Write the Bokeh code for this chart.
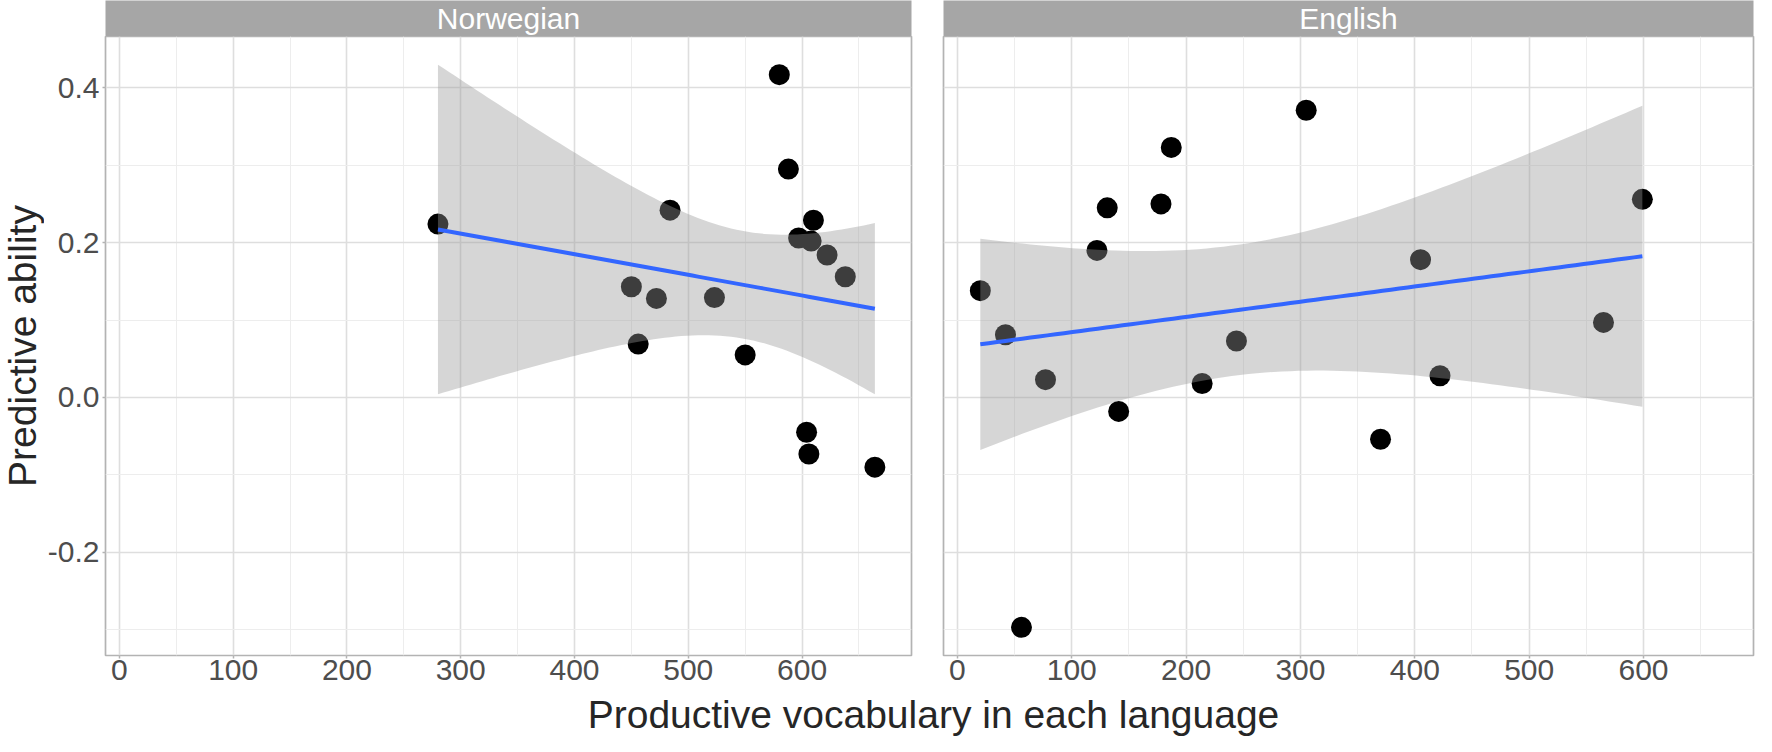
import math
import numpy as np
from bokeh.plotting import figure
from bokeh.layouts import row, column
from bokeh.models import Range1d, FixedTicker, PrintfTickFormatter, Grid
from bokeh.core.properties import value
from bokeh.embed import file_html
from bokeh.resources import INLINE

# ---------------- data ----------------
facets = ["Norwegian", "English"]
nor_vocab = [280, 450, 456, 472, 484, 523, 550, 580, 588, 597, 604, 606, 608, 610, 622, 638, 664]
nor_pred = [0.224, 0.143, 0.069, 0.128, 0.242, 0.129, 0.055, 0.417, 0.295, 0.206,
            -0.045, -0.073, 0.202, 0.229, 0.184, 0.156, -0.090]
eng_vocab = [20, 42, 56, 77, 122, 131, 141, 178, 187, 214, 244, 305, 370, 405, 422, 565, 599]
eng_pred = [0.138, 0.081, -0.297, 0.023, 0.190, 0.245, -0.018, 0.250, 0.323, 0.018,
            0.073, 0.371, -0.054, 0.178, 0.028, 0.097, 0.256]

x_ticks = [0, 100, 200, 300, 400, 500, 600]
x_minor = [50, 150, 250, 350, 450, 550, 650]
y_ticks = [-0.2, 0.0, 0.2, 0.4]
y_minor = [-0.3, -0.1, 0.1, 0.3]

x_title = "Productive vocabulary in each language"
y_title = "Predictive ability"

T975_DF15 = 2.1314  # t quantile for 95% CI, n-2 = 15 degrees of freedom

FONT = "Liberation Sans"
TICK_COL = "#4D4D4D"
TITLE_COL = "#262626"


def lm_band(x, y, n=80):
    x = np.asarray(x, float)
    y = np.asarray(y, float)
    b, a = np.polyfit(x, y, 1)
    resid = y - (a + b * x)
    s = math.sqrt((resid ** 2).sum() / (len(x) - 2))
    xm = x.mean()
    sxx = ((x - xm) ** 2).sum()
    xs = np.linspace(x.min(), x.max(), n)
    fit = a + b * xs
    se = s * np.sqrt(1.0 / len(x) + (xs - xm) ** 2 / sxx)
    return xs, fit, fit - T975_DF15 * se, fit + T975_DF15 * se


bands = [lm_band(nor_vocab, nor_pred), lm_band(eng_vocab, eng_pred)]
series = [(nor_vocab, nor_pred), (eng_vocab, eng_pred)]

all_x = nor_vocab + eng_vocab
xmin, xmax = min(all_x), max(all_x)
xpad = 0.05 * (xmax - xmin)
ylo = min(min(nor_pred + eng_pred), min(b[2].min() for b in bands))
yhi = max(max(nor_pred + eng_pred), max(b[3].max() for b in bands))
ypad = 0.05 * (yhi - ylo)
x_range = Range1d(xmin - xpad, xmax + xpad)
y_range = Range1d(ylo - ypad, yhi + ypad)

FRAME_W_L = 810
FRAME_W_R = 810
FRAME_H = 619
STRIP_H = 36
BOTTOM = 37
LEFT_AX = 57
GAP = 16
YT_W = 44
XT_H = 44
TITLE_SIZE = "39px"


def style_axis(ax, tick_out, standoff):
    ax.axis_line_color = None
    ax.major_tick_line_color = "#B3B3B3"
    ax.major_tick_line_width = 1.5
    ax.major_tick_out = tick_out
    ax.major_tick_in = 0
    ax.minor_tick_line_color = None
    ax.major_label_text_font = FONT
    ax.major_label_text_font_size = "30px"
    ax.major_label_text_color = TICK_COL
    ax.major_label_standoff = standoff


def style_grid(g):
    g.grid_line_color = "#DEDEDE"
    g.grid_line_width = 1.6
    g.minor_grid_line_color = "#EDEDED"
    g.minor_grid_line_width = 1.0


def bare(fig):
    fig.outline_line_color = None
    fig.background_fill_color = "white"
    fig.border_fill_color = "white"
    for g in fig.grid:
        g.visible = False


def make_panel(idx, show_y):
    mbl = LEFT_AX if show_y else GAP
    mbr = GAP if show_y else 2
    fw = FRAME_W_L if show_y else FRAME_W_R
    p = figure(width=mbl + fw + mbr, height=FRAME_H + BOTTOM,
               x_range=x_range, y_range=y_range,
               output_backend="svg", toolbar_location=None,
               y_axis_location="left" if show_y else None,
               min_border_left=mbl, min_border_right=mbr,
               min_border_top=0, min_border_bottom=BOTTOM)
    p.background_fill_color = "white"
    p.border_fill_color = "white"
    p.outline_line_color = "#B3B3B3"
    p.outline_line_width = 1.7

    xt = FixedTicker(ticks=x_ticks, minor_ticks=x_minor)
    p.xaxis.ticker = xt
    p.xaxis.formatter = PrintfTickFormatter(format="%d")
    style_axis(p.xaxis[0], 3, 0)
    p.xgrid.ticker = xt
    style_grid(p.xgrid[0])

    yt = FixedTicker(ticks=y_ticks, minor_ticks=y_minor)
    if show_y:
        p.yaxis.ticker = yt
        p.yaxis.formatter = PrintfTickFormatter(format="%.1f")
        style_axis(p.yaxis[0], 3, 2)
    ygrids = list(p.ygrid)
    if ygrids:
        for g in ygrids:
            g.ticker = yt
            style_grid(g)
    else:
        g = Grid(dimension=1, ticker=yt)
        style_grid(g)
        p.add_layout(g)

    xv, yv = series[idx]
    xs, fit, lo, hi = bands[idx]
    p.scatter(xv, yv, size=21, fill_color="black", line_color=None)
    p.varea(x=xs, y1=lo, y2=hi, fill_color="#999999", fill_alpha=0.4)
    p.line(xs, fit, line_color="#3366FF", line_width=4)
    return p


def make_strip(idx, show_y):
    mbl = LEFT_AX if show_y else GAP
    mbr = GAP if show_y else 2
    fw = FRAME_W_L if show_y else FRAME_W_R
    s = figure(width=mbl + fw + mbr, height=STRIP_H,
               x_range=x_range, y_range=Range1d(0, 1),
               output_backend="svg", toolbar_location=None,
               x_axis_location=None, y_axis_location=None,
               min_border_left=mbl, min_border_right=mbr,
               min_border_top=0, min_border_bottom=0)
    bare(s)
    s.background_fill_color = "#A6A6A6"
    mid = (x_range.start + x_range.end) / 2
    s.text(x=[mid], y=[0.5], text=[facets[idx]], text_align="center",
           text_baseline="middle", text_color="white",
           text_font=value(FONT), text_font_size="30px")
    return s


panel_l = make_panel(0, True)
panel_r = make_panel(1, False)
strip_l = make_strip(0, True)
strip_r = make_strip(1, False)

col_h = STRIP_H + FRAME_H + BOTTOM
yt_fig = figure(width=YT_W, height=col_h, x_range=Range1d(0, YT_W),
                y_range=Range1d(0, col_h), output_backend="svg",
                toolbar_location=None, x_axis_location=None, y_axis_location=None,
                min_border_left=0, min_border_right=0, min_border_top=0,
                min_border_bottom=0)
bare(yt_fig)
yt_fig.text(x=[YT_W / 2], y=[col_h - (STRIP_H + FRAME_H / 2)], text=[y_title],
            angle=math.pi / 2, text_align="center", text_baseline="middle",
            text_color=TITLE_COL, text_font=value(FONT), text_font_size=TITLE_SIZE)

total_w = YT_W + panel_l.width + panel_r.width
xt_fig = figure(width=total_w, height=XT_H, x_range=Range1d(0, total_w),
                y_range=Range1d(0, XT_H), output_backend="svg",
                toolbar_location=None, x_axis_location=None, y_axis_location=None,
                min_border_left=0, min_border_right=0, min_border_top=0,
                min_border_bottom=0)
bare(xt_fig)
frame_l_start = YT_W + LEFT_AX
frame_r_end = YT_W + panel_l.width + GAP + FRAME_W_R
xt_fig.text(x=[(frame_l_start + frame_r_end) / 2 + 6], y=[XT_H / 2], text=[x_title],
            text_align="center", text_baseline="middle",
            text_color=TITLE_COL, text_font=value(FONT), text_font_size=TITLE_SIZE)

layout = column(
    row(yt_fig, column(strip_l, panel_l), column(strip_r, panel_r)),
    xt_fig,
)

open("out.html", "w").write(file_html(layout, INLINE))
